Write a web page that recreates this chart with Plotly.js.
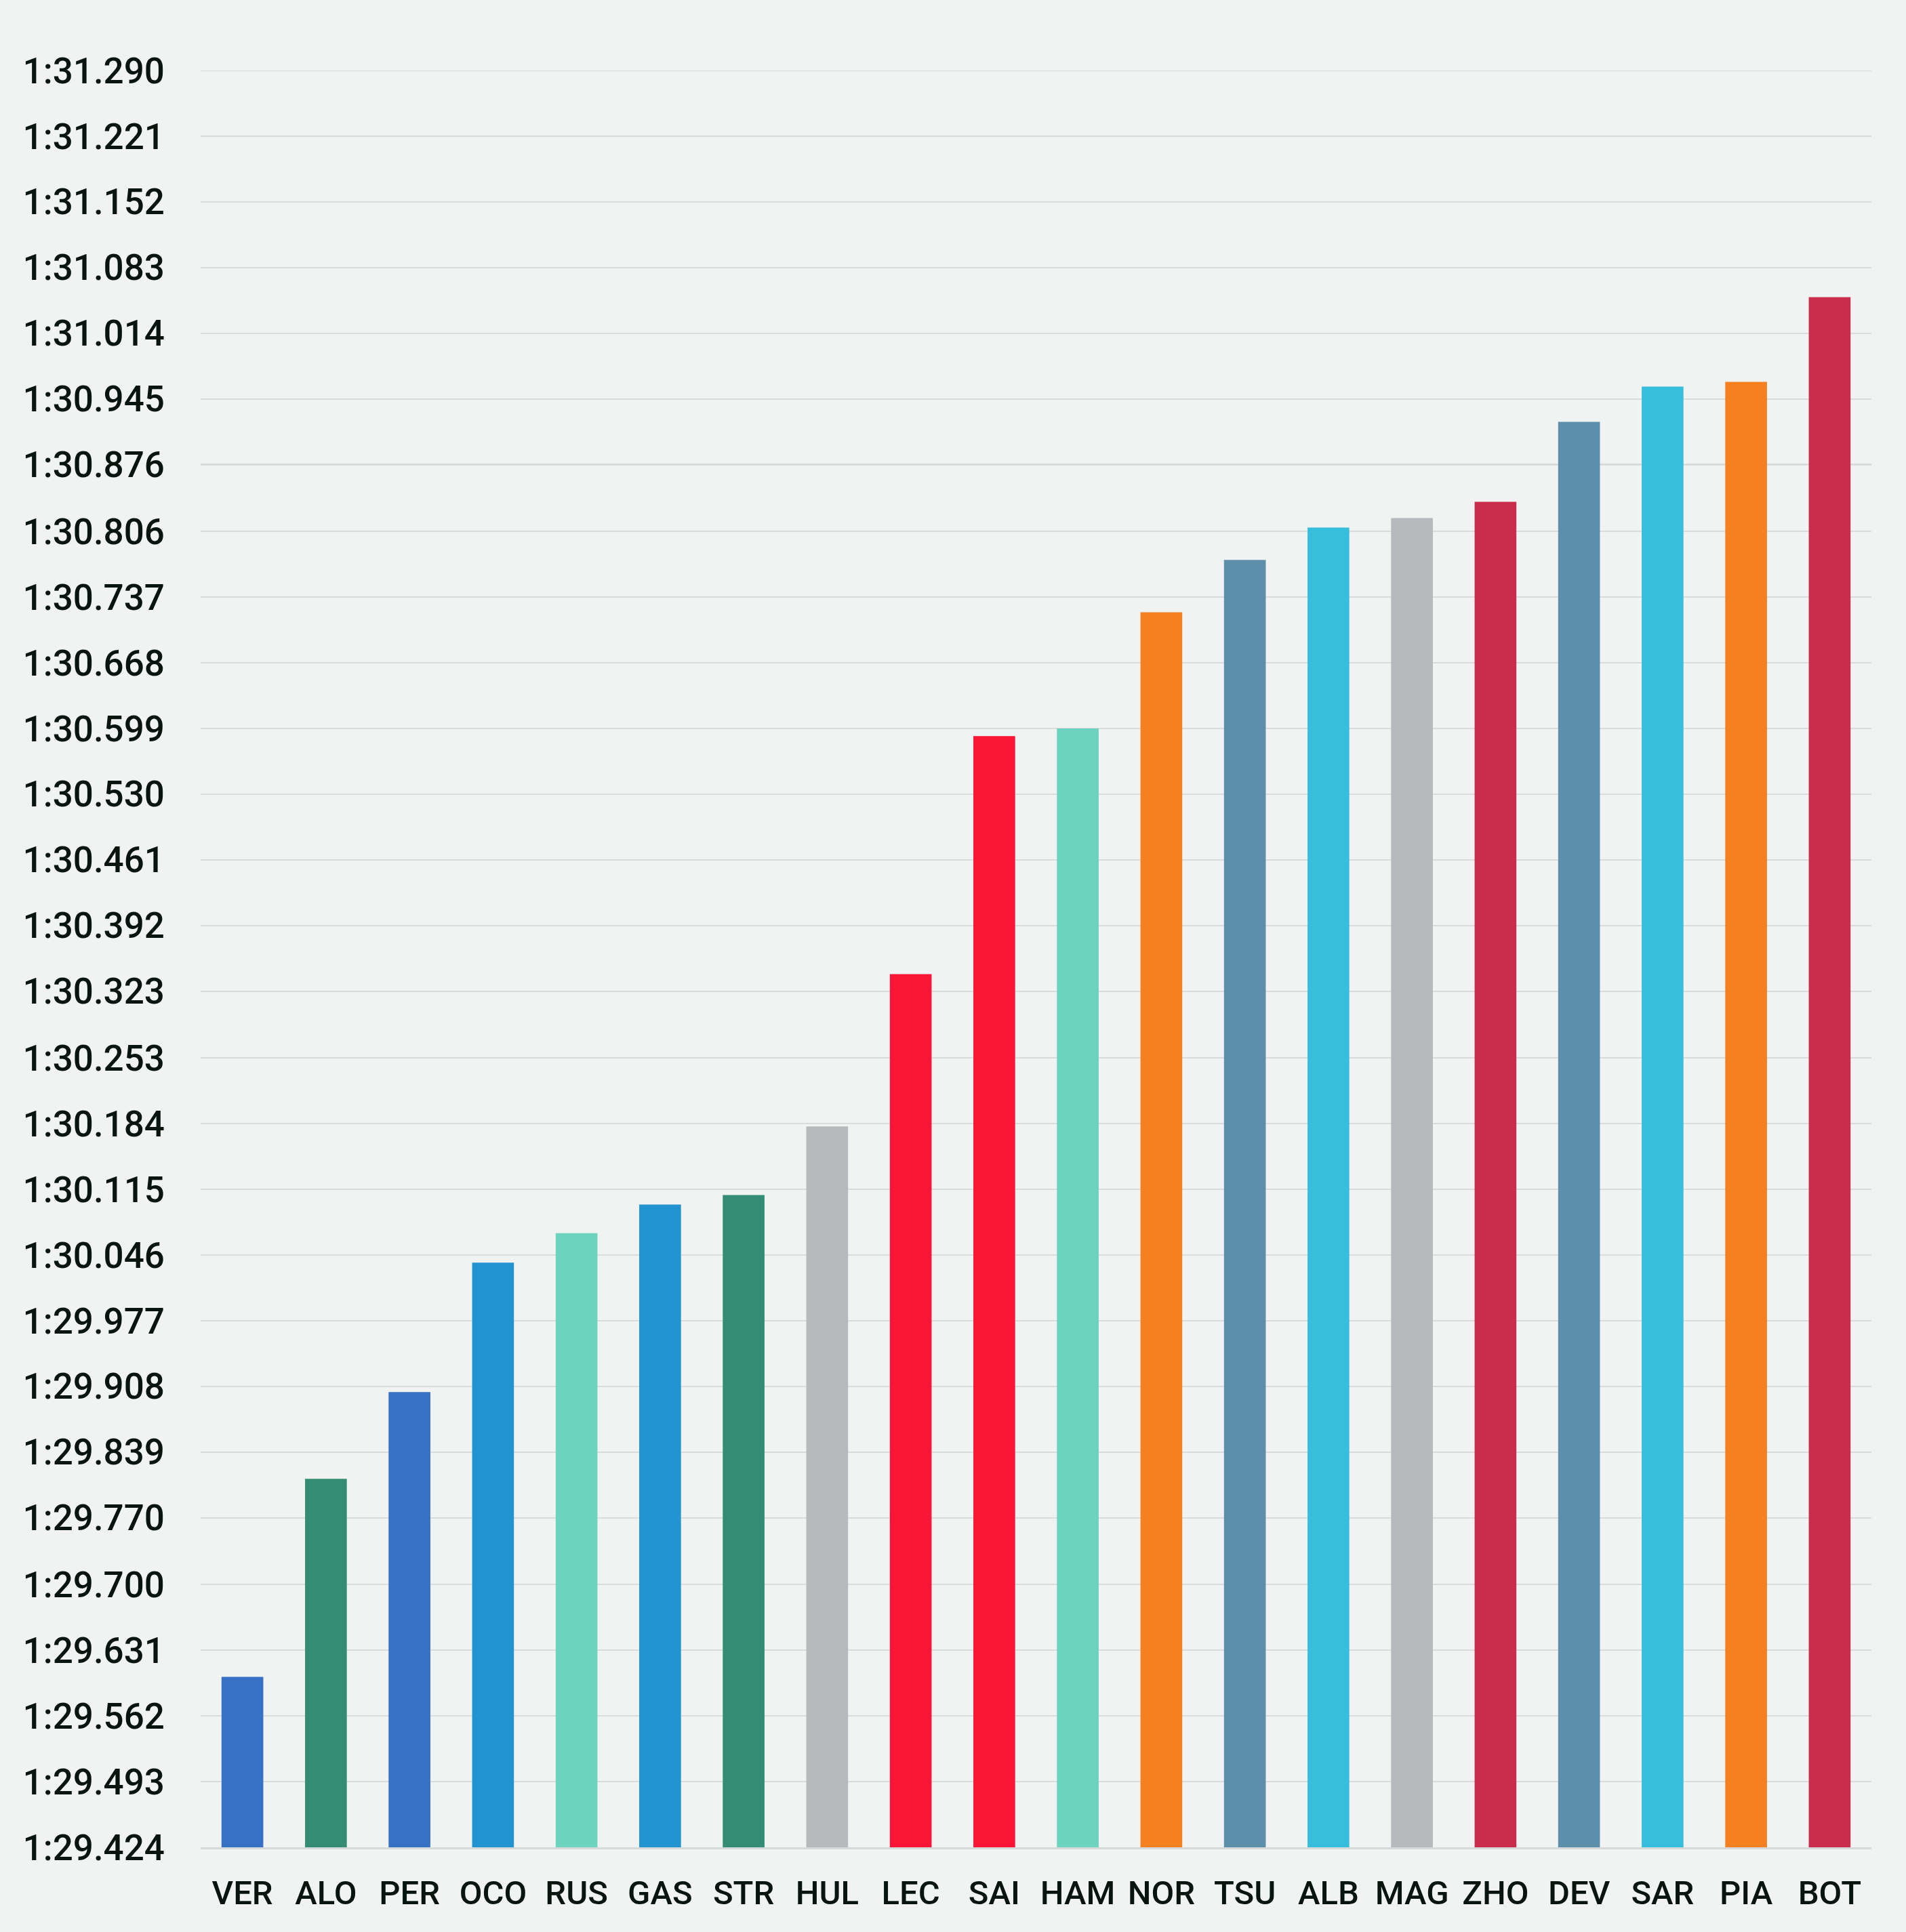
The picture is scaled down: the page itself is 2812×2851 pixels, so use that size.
<!DOCTYPE html>
<html>
<head>
<meta charset="utf-8">
<script src="https://cdn.plot.ly/plotly-3.0.1.min.js"></script>
<style>
  html, body { margin: 0; padding: 0; background: #f1f3f2; }
  #chart { width: 2812px; height: 2851px; }
</style>
</head>
<body>
<div id="chart"></div>
<script>
// Drivers (x categories)
const drivers = ["VER","ALO","PER","OCO","RUS","GAS","STR","HUL","LEC","SAI",
                 "HAM","NOR","TSU","ALB","MAG","ZHO","DEV","SAR","PIA","BOT"];

// Lap times in seconds (1:xx.xxx -> 60 + xx.xxx)
const lapTimes = [89.603, 89.811, 89.902, 90.038, 90.069, 90.099, 90.109, 90.181, 90.341, 90.591,
                  90.599, 90.721, 90.776, 90.810, 90.820, 90.837, 90.921, 90.958, 90.963, 91.052];

// Team colours per driver
const barColors = ["#3671c6","#358c75","#3671c6","#2293d1","#6cd3bf","#2293d1","#358c75","#b6babd","#f91536","#f91536",
                   "#6cd3bf","#f58020","#5e8faa","#37bedd","#b6babd","#c92d4b","#5e8faa","#37bedd","#f58020","#c92d4b"];

// Y-axis tick values (seconds) and labels
const tickVals = [89.424, 89.493, 89.562, 89.631, 89.700, 89.770, 89.839, 89.908, 89.977, 90.046,
                  90.115, 90.184, 90.253, 90.323, 90.392, 90.461, 90.530, 90.599, 90.668, 90.737,
                  90.806, 90.876, 90.945, 91.014, 91.083, 91.152, 91.221, 91.290];
const tickText = ["1:29.424","1:29.493","1:29.562","1:29.631","1:29.700","1:29.770","1:29.839","1:29.908","1:29.977","1:30.046",
                  "1:30.115","1:30.184","1:30.253","1:30.323","1:30.392","1:30.461","1:30.530","1:30.599","1:30.668","1:30.737",
                  "1:30.806","1:30.876","1:30.945","1:31.014","1:31.083","1:31.152","1:31.221","1:31.290"];

const textColor = "#08150f";
const gridColor = "#dadcdc";
const yMax = tickVals[tickVals.length - 1];

const trace = {
  type: "bar",
  x: drivers,
  y: lapTimes,
  marker: { color: barColors, line: { width: 0 } },
  hoverinfo: "x+y"
};

const layout = {
  width: 2812,
  height: 2851,
  paper_bgcolor: "#f1f3f2",
  plot_bgcolor: "#f1f3f2",
  margin: { l: 296, r: 51, t: 104, b: 125, pad: 0 },
  bargap: 0.5,
  showlegend: false,
  font: { family: "Roboto, 'Noto Sans', sans-serif", color: textColor },
  xaxis: {
    type: "category",
    showgrid: false,
    zeroline: false,
    showline: true,
    linecolor: "#d6d9da",
    linewidth: 3,
    ticks: "",
    tickfont: { size: 49, color: textColor, family: "Roboto, sans-serif", weight: 500 },
    ticklabelstandoff: 22
  },
  yaxis: {
    range: [tickVals[0], yMax],
    tickmode: "array",
    tickvals: tickVals,
    ticktext: tickText,
    showgrid: true,
    gridcolor: gridColor,
    gridwidth: 2.5,
    zeroline: false,
    showline: false,
    ticks: "",
    tickfont: { size: 53, color: textColor, family: "Roboto, sans-serif", weight: 500 },
    ticklabelstandoff: 52
  },
  shapes: [{
    type: "line", xref: "paper", yref: "y",
    x0: 0, x1: 1, y0: yMax, y1: yMax,
    line: { color: gridColor, width: 2.5 },
    layer: "below"
  }]
};

Plotly.newPlot("chart", [trace], layout, { staticPlot: true, displayModeBar: false });
</script>
</body>
</html>
